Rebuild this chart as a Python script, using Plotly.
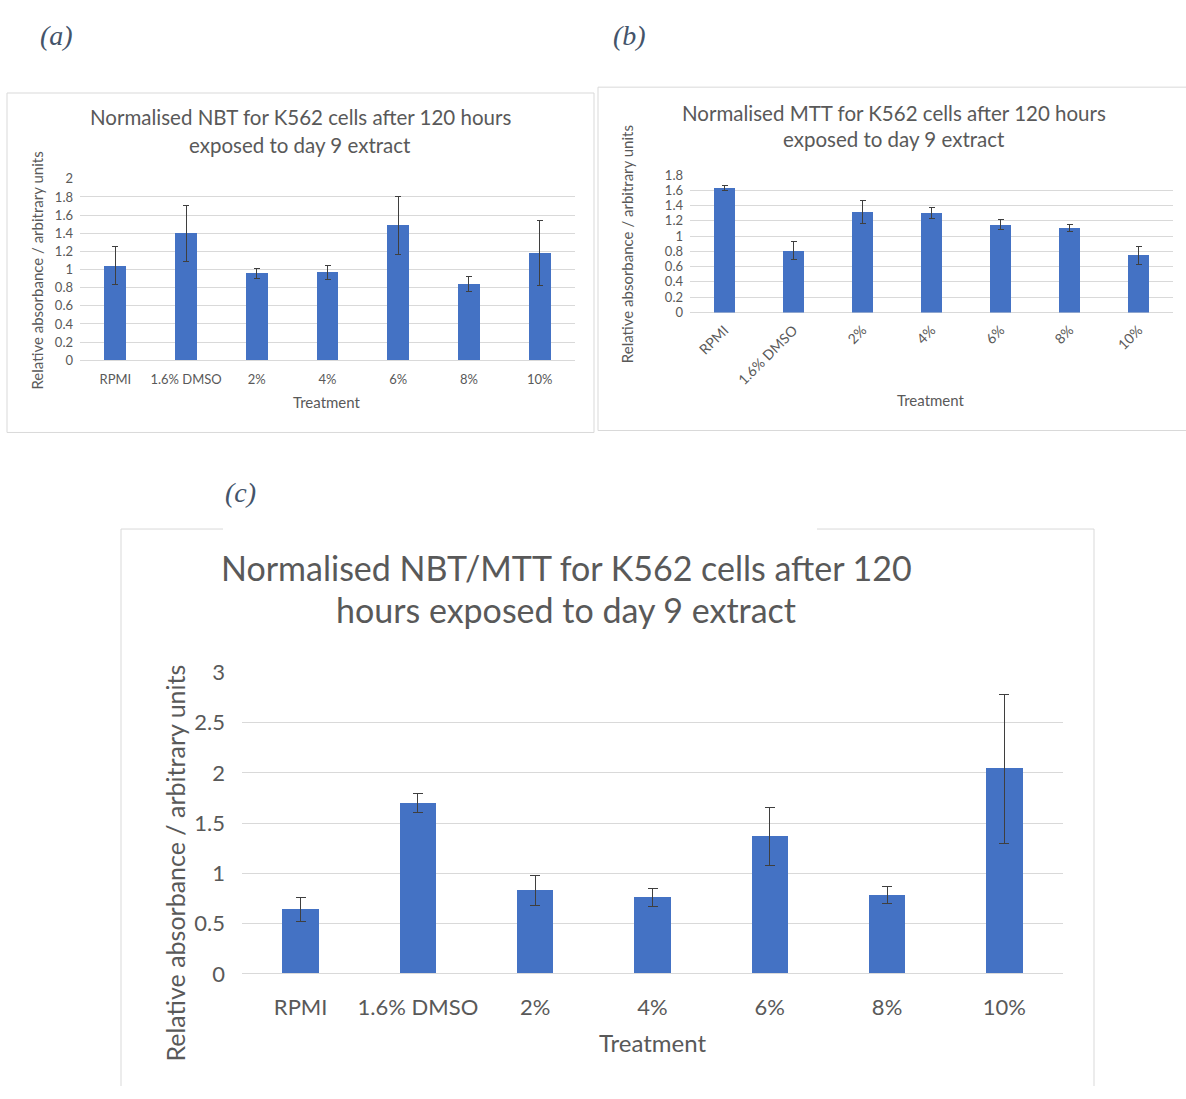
import plotly.graph_objects as go

# Canvas size in pixels
W, H = 1186, 1099

# ---- data -------------------------------------------------------------
categories = ["RPMI", "1.6% DMSO", "2%", "4%", "6%", "8%", "10%"]

# (a) normalised NBT
nbt_mean = [1.04, 1.40, 0.96, 0.97, 1.49, 0.84, 1.18]
nbt_err = [0.21, 0.31, 0.055, 0.08, 0.32, 0.08, 0.36]

# (b) normalised MTT
mtt_mean = [1.63, 0.81, 1.31, 1.30, 1.15, 1.10, 0.75]
mtt_err = [0.035, 0.12, 0.15, 0.075, 0.07, 0.045, 0.12]

# (c) normalised NBT/MTT
ratio_mean = [0.64, 1.70, 0.83, 0.76, 1.37, 0.78, 2.04]
ratio_err = [0.12, 0.09, 0.15, 0.09, 0.29, 0.085, 0.74]

# ---- styling ----------------------------------------------------------
BAR = "#4472C4"
TXT = "#595959"
GRID = "#d9d9d9"
ERR = "#3f3f3f"
FONT = "Lato"
LABEL_COLOR = "#44546A"


def fx(x):
    return x / W


def fy(y):
    return 1 - y / H


fig = go.Figure()


def add_bars(mean, err, xa, ya, cap):
    fig.add_trace(go.Bar(
        x=categories, y=mean, width=0.31,
        marker=dict(color=BAR, line=dict(width=0)),
        error_y=dict(type="data", array=err, visible=True,
                     color=ERR, thickness=1, width=cap),
        xaxis=xa, yaxis=ya, showlegend=False,
    ))


add_bars(nbt_mean, nbt_err, "x", "y", 3)
add_bars(mtt_mean, mtt_err, "x2", "y2", 3)
add_bars(ratio_mean, ratio_err, "x3", "y3", 5)


def xaxis_style(domain, anchor, size, angle=0, standoff=8):
    return dict(domain=domain, anchor=anchor, showgrid=False, showline=False,
                zeroline=False, ticks="", tickangle=angle,
                tickfont=dict(family=FONT, size=size, color=TXT),
                ticklabelstandoff=standoff, fixedrange=True)


def yaxis_style(domain, anchor, rng, dtick, size, standoff):
    return dict(domain=domain, anchor=anchor, range=rng, dtick=dtick,
                showgrid=True, gridcolor=GRID, gridwidth=1,
                zeroline=True, zerolinecolor=GRID, zerolinewidth=1,
                showline=False, ticks="",
                tickfont=dict(family=FONT, size=size, color=TXT),
                ticklabelstandoff=standoff, fixedrange=True)


fig.update_layout(
    width=W, height=H,
    margin=dict(l=0, r=0, t=0, b=0),
    paper_bgcolor="white", plot_bgcolor="white",
    bargap=0,
    xaxis=xaxis_style([fx(80), fx(575)], "y", 13, standoff=10),
    yaxis=yaxis_style([fy(355), fy(169)], "x", [0, 2], 0.2, 13, 6),
    xaxis2=xaxis_style([fx(690), fx(1173)], "y2", 14, angle=-45, standoff=6),
    yaxis2=yaxis_style([fy(306), fy(165)], "x2", [0, 1.8], 0.2, 13, 6),
    xaxis3=xaxis_style([fx(242), fx(1063)], "y3", 22, standoff=18),
    yaxis3=yaxis_style([fy(984), fy(675)], "x3", [0, 3], 0.5, 22, 16),
)

# ---- text ---------------------------------------------------------------
annotations = []


def text(x, y, s, size, color=TXT, family=FONT, angle=0):
    annotations.append(dict(
        x=fx(x), y=fy(y), xref="paper", yref="paper", text=s,
        showarrow=False, xanchor="center", yanchor="middle",
        textangle=angle, font=dict(family=family, size=size, color=color)))


# panel letters
text(56, 22, "<i>(a)</i>", 28, LABEL_COLOR, "Liberation Serif")
text(629, 22, "<i>(b)</i>", 28, LABEL_COLOR, "Liberation Serif")
text(240, 491, "<i>(c)</i>", 28, LABEL_COLOR, "Liberation Serif")

# (a)
text(300, 106, "Normalised NBT for K562 cells after 120 hours", 20.5)
text(300, 134, "exposed to day 9 extract", 20.5)
text(37, 263, "Relative absorbance / arbitrary units", 15, angle=-90)
text(327, 398, "Treatment", 15)

# (b)
text(894, 101, "Normalised MTT for K562 cells after 120 hours", 20.5)
text(894, 128, "exposed to day 9 extract", 20.5)
text(627, 236, "Relative absorbance / arbitrary units", 15, angle=-90)
text(931, 396, "Treatment", 15)

# (c)
text(566, 567, "Normalised NBT/MTT for K562 cells after 120", 34)
text(566, 611, "hours exposed to day 9 extract", 34)
text(175, 871, "Relative absorbance / arbitrary units", 25, angle=-90)
text(652, 1054, "Treatment", 24)

fig.update_layout(annotations=annotations)

# ---- chart-area frames ----------------------------------------------------
shapes = []


def line(x0, y0, x1, y1):
    shapes.append(dict(type="line", xref="paper", yref="paper",
                       x0=fx(x0), y0=fy(y0), x1=fx(x1), y1=fy(y1),
                       line=dict(color=GRID, width=1)))


# (a) frame
line(7, 81, 594, 81)
line(7, 429, 594, 429)
line(7, 81, 7, 429)
line(594, 81, 594, 429)
# (b) frame (runs off the right edge)
line(598, 75, 1186, 75)
line(598, 427, 1186, 427)
line(598, 75, 598, 427)
# (c) frame, top edge interrupted behind the label area
line(121, 528, 223, 528)
line(817, 528, 1094, 528)
line(121, 528, 121, 1099)
line(1094, 528, 1094, 1099)

fig.update_layout(shapes=shapes)

fig.write_html("out.html")
